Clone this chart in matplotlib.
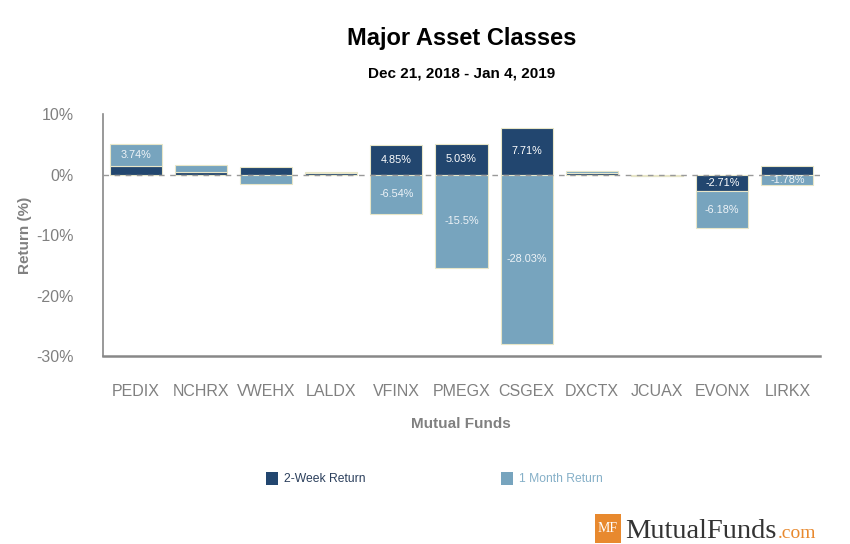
import matplotlib
matplotlib.use("Agg")
import matplotlib.pyplot as plt
from matplotlib.patches import Rectangle
import numpy as np

plt.rcParams['font.family'] = ['Liberation Sans', 'DejaVu Sans']

funds = ["PEDIX", "NCHRX", "VWEHX", "LALDX", "VFINX", "PMEGX", "CSGEX",
         "DXCTX", "JCUAX", "EVONX", "LIRKX"]
two_week = [1.35, 0.4, 1.2, 0.3, 4.85, 5.03, 7.71, 0.2, -0.25, -2.71, 1.45]
one_month = [3.74, 1.1, -1.6, 0.1, -6.54, -15.5, -28.03, 0.4, -0.05, -6.18, -1.78]
yticks = [10, 0, -10, -20, -30]

c_dark = "#22466f"
c_light = "#77a4be"
edge = "#e8e6c8"
gray = "#808080"

fig = plt.figure(figsize=(8.5, 5.44), dpi=100)
ax = fig.add_axes([0.1212, 0.3456, 0.8435, 0.4448])

x = np.arange(len(funds))
w = 0.8
tw = np.array(two_week)
om = np.array(one_month)
# stacking: positives stack on positives, negatives on negatives
bottom_om = np.where((om >= 0) == (tw >= 0), tw, 0.0)
ax.bar(x, tw, width=w, color=c_dark, edgecolor=edge, linewidth=0.8, zorder=3)
ax.bar(x, om, width=w, bottom=bottom_om, color=c_light, edgecolor=edge, linewidth=0.8, zorder=3)

def fmt(v):
    s = ("%.2f" % v).rstrip("0").rstrip(".")
    return s + "%"

for i in range(len(funds)):
    if abs(tw[i]) >= 1.7:
        ax.text(x[i], tw[i] / 2, fmt(tw[i]), ha="center", va="center",
                color="white", fontsize=7.8, zorder=5)
    if abs(om[i]) >= 1.7:
        ax.text(x[i], bottom_om[i] + om[i] / 2, fmt(om[i]), ha="center", va="center",
                color="#eef3f7", fontsize=7.8, zorder=5)

ax.axhline(0, color="#999999", linestyle=(0, (4, 4)), linewidth=1.0, zorder=4)

ax.set_xlim(-0.5, len(funds) - 0.5)
ax.set_ylim(-30, 10)
ax.set_yticks(yticks)
ax.set_yticklabels([f"{t}%" for t in yticks])
ax.set_xticks(x)
ax.set_xticklabels(funds)
ax.tick_params(axis="both", length=0, colors=gray, labelsize=11.5)
ax.tick_params(axis="x", pad=20)
ax.tick_params(axis="y", pad=21)
for s in ["top", "right"]:
    ax.spines[s].set_visible(False)
ax.spines["left"].set_color("#888888")
ax.spines["left"].set_linewidth(1.2)
ax.spines["bottom"].set_color("#888888")
ax.spines["bottom"].set_linewidth(1.8)

fig.text(25 / 850, 1 - 235 / 544, "Return (%)", ha="center", va="center", rotation=90,
         color=gray, fontsize=11, fontweight="bold")
fig.text(461 / 850, 1 - 424 / 544, "Mutual Funds", ha="center", va="center",
         color=gray, fontsize=11, fontweight="bold")

fig.text(462 / 850, 1 - 38 / 544, "Major Asset Classes", ha="center", va="center",
         fontsize=17, fontweight="bold", color="black")
fig.text(462 / 850, 1 - 73 / 544, "Dec 21, 2018 - Jan 4, 2019", ha="center", va="center",
         fontsize=11, fontweight="bold", color="black")

# legend
fig.patches.append(Rectangle((266 / 850, 1 - 485 / 544), 12 / 850, 13 / 544,
                             transform=fig.transFigure, facecolor=c_dark, edgecolor="none"))
fig.text(284 / 850, 1 - 478.5 / 544, "2-Week Return", ha="left", va="center",
         fontsize=8.7, color="#2b3f5c")
fig.patches.append(Rectangle((501 / 850, 1 - 485 / 544), 12 / 850, 13 / 544,
                             transform=fig.transFigure, facecolor=c_light, edgecolor="none"))
fig.text(519 / 850, 1 - 478.5 / 544, "1 Month Return", ha="left", va="center",
         fontsize=8.7, color="#86b0c8")

# logo
fig.patches.append(Rectangle((595 / 850, 1 - 543 / 544), 26 / 850, 29 / 544,
                             transform=fig.transFigure, facecolor="#e8892e", edgecolor="none"))
fig.text(608 / 850, 1 - 528 / 544, "MF", ha="center", va="center", fontsize=10,
         color="white", family="Liberation Serif")
t_mf = fig.text(625 / 850, 1 - 538 / 544, "MutualFunds", ha="left", va="baseline", fontsize=20.5,
                color="#333333", family="Liberation Serif")
fig.canvas.draw()
bb = t_mf.get_window_extent()
fig.text(bb.x1 / fig.bbox.width + 1 / 850, 1 - 538 / 544, ".com", ha="left", va="baseline",
         fontsize=14, color="#e8892e", family="Liberation Serif")

fig.savefig("out.png", dpi=100)
